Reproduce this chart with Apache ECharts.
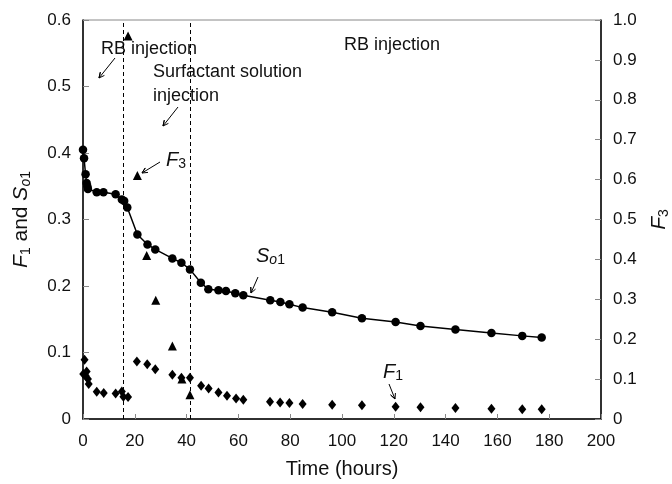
<!DOCTYPE html>
<html lang="en">
<head>
    <meta charset="utf-8" />
    <title>F1, So1 and F3 vs time</title>
    <script src="https://cdn.jsdelivr.net/npm/echarts@6/dist/echarts.min.js"></script>
    <style>
        body {
            margin: 0;
            padding: 0;
            background: #fff;
        }

        #main {
            width: 672px;
            height: 484px;
        }
    </style>
</head>
<body>
<div id="main"></div>
<script type="text/javascript">
    // Data
    const soTime = [0, 0.4, 1.0, 1.4, 1.7, 1.9, 5.3, 7.9, 12.6, 15.0, 15.9, 17.1, 21.0, 24.9, 27.9, 34.5, 38.0, 41.3,
        45.5, 48.4, 52.3, 55.2, 58.8, 61.9, 72.3, 76.2, 79.7, 84.8, 96.2, 107.7, 120.7, 130.3, 143.8, 157.7, 169.6, 177.1];
    const soValues = [0.405, 0.392, 0.368, 0.355, 0.350, 0.346, 0.341, 0.341, 0.338, 0.330, 0.328, 0.318, 0.2775, 0.2625,
        0.255, 0.2415, 0.235, 0.225, 0.205, 0.195, 0.1935, 0.1925, 0.189, 0.186, 0.1785, 0.176, 0.1725, 0.1675, 0.1605,
        0.1515, 0.146, 0.140, 0.1345, 0.1295, 0.125, 0.1225];

    const f1Time = [0.6, 0.1, 1.4, 1.0, 1.9, 2.2, 5.3, 8.0, 12.6, 15.0, 15.6, 17.4, 20.8, 24.8, 27.9, 34.5, 38.0, 41.3,
        45.6, 48.5, 52.3, 55.6, 59.1, 61.9, 72.2, 76.1, 79.7, 84.8, 96.2, 107.7, 120.7, 130.3, 143.8, 157.7, 169.6, 177.1];
    const f1Values = [0.089, 0.0675, 0.0715, 0.065, 0.060, 0.0525, 0.041, 0.039, 0.0385, 0.0415, 0.0335, 0.033, 0.0865,
        0.0825, 0.075, 0.0665, 0.062, 0.062, 0.050, 0.046, 0.040, 0.035, 0.031, 0.029, 0.026, 0.025, 0.024, 0.0225,
        0.0215, 0.0205, 0.0185, 0.0175, 0.0165, 0.0155, 0.0145, 0.0145];

    const f3Time = [17.4, 21.0, 24.6, 28.1, 34.5, 38.2, 41.3];
    const f3Values = [0.96, 0.61, 0.41, 0.2975, 0.183, 0.10, 0.061];

    // Injection switch times (dashed lines)
    const switchTimes = [15.7, 41.3];

    const zip = (xs, ys) => xs.map((x, i) => [x, ys[i]]);
    const fmt = v => v === 0 ? '0' : v.toFixed(1);
    const FONT = 'Liberation Sans';

    var myChart = echarts.init(document.getElementById('main'));

    // rich styles for italic symbols and subscripts
    const richFor = size => ({
        v: {fontStyle: 'italic', fontSize: size, fontFamily: FONT, lineHeight: size + 3, color: '#111'},
        si: {fontStyle: 'italic', fontSize: Math.round(size * 0.68), fontFamily: FONT,
            lineHeight: Math.round(size * 0.62), verticalAlign: 'bottom', color: '#111'},
        s: {fontSize: Math.round(size * 0.68), fontFamily: FONT,
            lineHeight: Math.round(size * 0.62), verticalAlign: 'bottom', color: '#111'}
    });

    // Small arrow: line plus open head at (x2, y2)
    const arrow = (x1, y1, x2, y2) => {
        const a = Math.atan2(y2 - y1, x2 - x1);
        const h = 6, w = 0.45;
        return {
            type: 'polyline',
            silent: true,
            shape: {
                points: [[x1, y1], [x2, y2],
                    [x2 - h * Math.cos(a - w), y2 - h * Math.sin(a - w)],
                    [x2, y2],
                    [x2 - h * Math.cos(a + w), y2 - h * Math.sin(a + w)]]
            },
            style: {stroke: '#000', lineWidth: 1, fill: null}
        };
    };

    const label = (x, y, text, size) => ({
        type: 'text',
        silent: true,
        x: x,
        y: y,
        style: {
            text: text,
            font: (size || 18) + 'px "' + FONT + '"',
            fill: '#111',
            verticalAlign: 'middle',
            rich: richFor(20)
        }
    });

    var option = {
        backgroundColor: '#fff',
        animation: false,
        textStyle: {fontFamily: FONT},
        grid: {
            left: 83,
            right: 71,
            top: 20,
            bottom: 65,
            outerBoundsMode: 'none',
            containLabel: false,
            show: true,
            borderColor: '#888',
            borderWidth: 1
        },
        xAxis: {
            type: 'value',
            min: 0,
            max: 200,
            interval: 20,
            name: 'Time (hours)',
            nameLocation: 'middle',
            nameGap: 40,
            nameTextStyle: {fontSize: 20, color: '#111', fontFamily: FONT},
            axisLine: {lineStyle: {color: '#000', width: 1.5}},
            axisTick: {inside: true, length: 5, lineStyle: {color: '#888'}},
            axisLabel: {fontSize: 17, color: '#111', margin: 14},
            splitLine: {show: false}
        },
        yAxis: [
            {
                type: 'value',
                min: 0,
                max: 0.6,
                interval: 0.1,
                name: '{v|F}{s|1} and {v|S}{si|o}{s|1}',
                nameLocation: 'middle',
                nameGap: 50,
                nameTextStyle: {
                    fontSize: 21, color: '#111', fontFamily: FONT, lineHeight: 24,
                    rich: richFor(21)
                },
                axisLine: {show: true, lineStyle: {color: '#000', width: 1.5}},
                axisTick: {show: true, inside: true, length: 6, lineStyle: {color: '#888'}},
                axisLabel: {fontSize: 17, color: '#111', margin: 12, formatter: fmt},
                splitLine: {show: false}
            },
            {
                type: 'value',
                min: 0,
                max: 1,
                interval: 0.1,
                position: 'right',
                name: '{v|F}{s|3}',
                nameLocation: 'middle',
                nameGap: 44,
                nameRotate: 90,
                nameTextStyle: {
                    fontSize: 21, color: '#111', fontFamily: FONT, lineHeight: 24,
                    rich: richFor(21)
                },
                axisLine: {show: true, lineStyle: {color: '#000', width: 1.5}},
                axisTick: {show: true, inside: true, length: 6, lineStyle: {color: '#888'}},
                axisLabel: {fontSize: 17, color: '#111', margin: 12, formatter: fmt},
                splitLine: {show: false}
            }
        ],
        series: [
            {
                name: 'So1',
                type: 'line',
                data: zip(soTime, soValues),
                symbol: 'circle',
                symbolSize: 8.5,
                itemStyle: {color: '#000', opacity: 1},
                lineStyle: {color: '#000', width: 1.5},
                z: 3,
                markLine: {
                    silent: true,
                    symbol: 'none',
                    label: {show: false},
                    lineStyle: {color: '#000', type: [4, 3], width: 1},
                    data: switchTimes.map(t => ({xAxis: t}))
                }
            },
            {
                name: 'F1',
                type: 'scatter',
                data: zip(f1Time, f1Values),
                symbol: 'diamond',
                symbolSize: [8, 10],
                itemStyle: {color: '#000', opacity: 1},
                z: 3
            },
            {
                name: 'F3',
                type: 'scatter',
                yAxisIndex: 1,
                data: zip(f3Time, f3Values),
                symbol: 'triangle',
                symbolSize: [9, 9],
                itemStyle: {color: '#000', opacity: 1},
                z: 4
            }
        ],
        graphic: [
            label(101, 49, 'RB injection'),
            arrow(115, 58, 99, 78),
            label(153, 72, 'Surfactant solution'),
            label(153, 96, 'injection'),
            arrow(178, 107, 163, 126),
            label(166, 160, '{v|F}{s|3}'),
            arrow(160, 162, 142, 173),
            label(256, 256, '{v|S}{si|o}{s|1}'),
            arrow(258, 277, 251, 293),
            label(383, 372, '{v|F}{s|1}'),
            arrow(389, 384, 395, 399),
            label(344, 45, 'RB injection')
        ]
    };

    myChart.setOption(option);
</script>
</body>
</html>
